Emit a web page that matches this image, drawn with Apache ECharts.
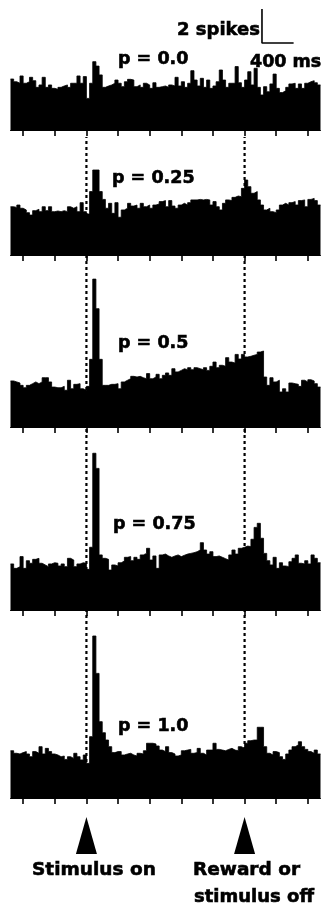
<!DOCTYPE html>
<html>
<head>
<meta charset="utf-8">
<script src="https://cdn.jsdelivr.net/npm/echarts@6/dist/echarts.min.js"></script>
<style>
  html, body { margin: 0; padding: 0; background: #fff; }
  #chart { width: 327px; height: 911px; }
</style>
</head>
<body>
<div id="chart"></div>
<script>
// PSTH, 40 ms bins, time 0 = stimulus on, 2000 ms = reward / stimulus off
const BIN_START = -960;
const BIN_MS = 40;
const TICKS = [-800, -400, 0, 400, 800, 1200, 1600, 2000, 2400, 2800];
const EVENTS = [0, 2000];
const EVENT_LABELS = ['Stimulus on', 'Reward or\nstimulus off'];
const P_LABELS = ['p = 0.0', 'p = 0.25', 'p = 0.5', 'p = 0.75', 'p = 1.0'];
const SCALE_SPIKES = 2, SCALE_MS = 400, SCALE_T0 = 2220;

// spikes per bin
const P00 = [3.00,2.84,2.75,3.18,2.75,2.84,3.10,2.90,2.51,2.65,3.10,2.51,2.65,2.45,2.39,2.51,2.59,2.65,2.51,2.75,
  2.75,3.18,2.75,3.14,1.86,2.75,4.02,3.76,3.24,2.51,2.59,2.65,2.75,2.94,2.75,2.55,2.84,2.98,2.94,2.55,
  2.65,2.51,2.75,2.65,2.45,2.78,2.51,2.55,2.59,2.51,2.65,2.59,3.10,2.59,2.84,2.51,2.75,3.49,2.94,2.59,
  3.04,2.51,2.94,2.45,2.59,2.84,3.53,2.94,2.51,2.75,2.75,3.73,2.78,2.51,2.94,3.43,2.65,3.63,2.51,2.06,
  2.55,2.25,2.71,3.29,2.45,2.20,2.31,2.51,2.71,2.75,2.45,2.71,2.45,2.75,2.84,2.90,2.78,2.65];
const P025 = [2.84,2.80,2.94,2.75,2.65,2.49,2.35,2.61,2.69,2.55,2.84,2.61,2.84,2.55,2.59,2.55,2.61,2.55,2.84,2.75,
  2.84,2.55,3.08,2.55,2.41,3.73,5.00,5.00,3.73,3.27,2.75,3.04,2.45,3.08,2.22,2.65,2.75,3.04,2.88,2.94,
  2.75,3.04,2.84,2.94,2.75,2.94,3.00,3.14,3.20,2.84,3.20,2.88,2.75,2.94,3.04,2.94,3.08,3.24,3.24,3.27,
  3.24,3.27,3.24,2.94,3.14,2.84,2.65,3.04,3.24,3.20,3.39,3.47,3.43,3.92,4.41,4.02,3.63,3.73,3.24,2.94,
  2.65,2.75,2.55,2.49,2.65,2.94,3.04,2.94,3.08,3.14,2.94,3.20,3.24,2.84,3.27,3.33,3.20,2.94];
const P05 = [2.71,2.65,2.59,2.45,2.31,2.45,2.55,2.65,2.55,2.65,2.90,2.90,2.65,2.35,2.31,2.31,2.39,2.16,2.75,2.25,
  2.51,2.55,2.25,2.16,2.39,3.98,8.70,6.96,3.98,2.45,2.45,2.51,2.51,2.55,2.25,2.65,2.75,2.84,2.98,2.94,
  2.98,2.90,2.84,3.14,2.84,2.94,3.10,2.84,3.04,3.18,3.04,3.43,3.24,3.33,3.43,3.37,3.49,3.37,3.49,3.43,
  3.37,3.49,3.33,3.57,3.82,3.49,3.63,3.57,4.08,3.82,3.76,4.27,4.00,4.27,4.12,4.16,4.22,4.27,4.41,4.47,
  2.94,2.45,2.90,2.65,2.75,2.06,2.25,2.06,2.59,2.55,2.51,2.39,2.75,2.65,2.78,2.71,2.55,2.35];
const P075 = [2.71,2.45,2.55,3.14,2.45,2.90,2.75,2.98,3.04,2.75,2.65,2.55,2.71,2.78,2.75,2.59,2.71,2.55,3.04,2.94,
  2.55,2.71,2.78,2.75,2.39,3.69,9.22,8.33,3.24,3.04,2.98,2.35,2.65,2.59,2.78,2.88,3.10,3.14,2.90,3.10,
  2.98,3.24,3.33,3.63,2.94,3.18,2.45,3.24,3.29,3.18,3.10,3.18,3.24,3.14,3.22,3.29,3.33,3.37,3.43,3.53,
  3.96,3.53,3.29,3.43,3.14,3.18,3.10,3.02,2.94,3.24,3.53,3.29,3.63,3.69,3.76,3.73,4.16,4.86,5.10,4.22,
  3.33,2.90,2.65,3.10,2.45,2.78,2.59,2.55,2.84,3.04,3.24,2.75,2.71,2.90,2.71,3.24,3.04,2.78];
const P10 = [2.78,2.63,2.59,2.67,2.73,2.59,2.43,2.73,2.63,3.02,2.59,2.92,2.73,2.59,2.53,2.43,2.47,2.27,2.43,2.33,
  2.63,2.43,2.24,2.53,2.04,3.61,9.53,7.33,4.49,3.84,3.41,3.02,2.67,2.73,2.73,2.53,2.59,2.63,2.53,2.47,
  2.63,2.59,2.78,3.22,3.22,3.18,3.06,2.82,2.73,3.02,2.67,2.59,2.47,2.53,2.78,2.82,2.86,2.63,2.67,2.92,
  2.63,2.53,2.82,2.82,3.22,2.86,2.82,2.78,2.86,2.92,2.82,2.78,3.02,2.92,3.22,3.37,3.41,3.41,4.16,4.16,
  3.02,2.63,2.53,2.73,2.67,2.43,2.27,2.59,2.82,3.02,3.12,3.31,3.02,2.86,2.73,2.63,2.82,2.59];
const PANELS = [P00, P025, P05, P075, P10];

// layout
const GRID_LEFT = 10.5, GRID_W = 310;
const PX_PER_SPIKE = 17;
const BASE_Y = [130, 255, 427, 610, 798];
const YMAX = [5, 6, 10, 10, 10];
const LABEL_POS = [[118, 59], [112, 178], [118, 343], [113, 524], [118, 726]];
const FONT = 'bold 17.5px "DejaVu Sans"';
const X_MAX = BIN_START + BIN_MS * P00.length;

const chart = echarts.init(document.getElementById('chart'), null, { renderer: 'canvas' });

const grid = [], xAxis = [], yAxis = [], series = [];

function hiddenX(gi) {
  return { gridIndex: gi, type: 'value', min: BIN_START, max: X_MAX, show: false };
}
function hiddenY(gi, max) {
  return { gridIndex: gi, type: 'value', min: 0, max, show: false };
}

PANELS.forEach((vals, i) => {
  const h = YMAX[i] * PX_PER_SPIKE;
  grid.push({ left: GRID_LEFT, width: GRID_W, top: BASE_Y[i] - h, height: h });
  xAxis.push({
    gridIndex: i, type: 'value', min: BIN_START, max: X_MAX,
    axisLine: { show: true, lineStyle: { color: '#000', width: 1 } },
    axisTick: { show: true, customValues: TICKS, length: 6, lineStyle: { color: '#000', width: 1.6 } },
    axisLabel: { show: false },
    splitLine: { show: false },
  });
  yAxis.push(hiddenY(i, YMAX[i]));
  const data = vals.map((v, k) => [BIN_START + k * BIN_MS, v]);
  data.push([X_MAX, vals[vals.length - 1]]);
  series.push({
    type: 'line', xAxisIndex: i, yAxisIndex: i, data,
    step: 'end', symbol: 'none', silent: true,
    lineStyle: { color: '#000', width: 0.8 },
    areaStyle: { color: '#000', opacity: 1 },
    z: 3,
  });
});

// dotted event lines, across all panels
let gi = PANELS.length;
grid.push({ left: GRID_LEFT, width: GRID_W, top: 137, height: BASE_Y[4] - 137 });
xAxis.push(hiddenX(gi));
yAxis.push(hiddenY(gi, 1));
EVENTS.forEach(t => {
  series.push({
    type: 'line', xAxisIndex: gi, yAxisIndex: gi, data: [[t, 0], [t, 1]],
    symbol: 'none', silent: true, clip: false,
    lineStyle: { color: '#000', width: 2.2, type: [3, 3] },
    z: 2,
  });
});

// scale bar
gi++;
grid.push({ left: GRID_LEFT, width: GRID_W, top: 9, height: 34 });
xAxis.push(hiddenX(gi));
yAxis.push(hiddenY(gi, SCALE_SPIKES));
series.push({
  type: 'line', xAxisIndex: gi, yAxisIndex: gi,
  data: [[SCALE_T0, SCALE_SPIKES], [SCALE_T0, 0], [SCALE_T0 + SCALE_MS, 0]],
  symbol: 'none', silent: true, clip: false,
  lineStyle: { color: '#000', width: 1.6 },
});

// event arrows
gi++;
grid.push({ left: GRID_LEFT, width: GRID_W, top: 817, height: 37 });
xAxis.push(hiddenX(gi));
yAxis.push(hiddenY(gi, 1));
series.push({
  type: 'scatter', xAxisIndex: gi, yAxisIndex: gi,
  data: EVENTS.map(t => [t, 0.5]),
  symbol: 'triangle', symbolSize: [21, 37], silent: true,
  itemStyle: { color: '#000', opacity: 1 },
});

const heavy = { fill: '#000', stroke: '#000', lineWidth: 0.6, textVerticalAlign: 'middle' };
const graphic = [];
P_LABELS.forEach((txt, i) => {
  graphic.push({ type: 'text', x: LABEL_POS[i][0], y: LABEL_POS[i][1],
    style: Object.assign({ text: txt, font: FONT, textAlign: 'left' }, heavy) });
});
graphic.push({ type: 'text', x: 260, y: 30,
  style: Object.assign({ text: SCALE_SPIKES + ' spikes', font: 'bold 18px "DejaVu Sans"', textAlign: 'right' }, heavy) });
graphic.push({ type: 'text', x: 250, y: 62,
  style: Object.assign({ text: SCALE_MS + ' ms', font: FONT, textAlign: 'left' }, heavy) });
graphic.push({ type: 'text', x: 32, y: 870,
  style: Object.assign({ text: EVENT_LABELS[0], font: 'bold 18.5px "DejaVu Sans"', textAlign: 'left' }, heavy) });
graphic.push({ type: 'text', x: 193, y: 870,
  style: Object.assign({ text: EVENT_LABELS[1].split('\n')[0], font: 'bold 18.5px "DejaVu Sans"', textAlign: 'left' }, heavy) });
graphic.push({ type: 'text', x: 194, y: 897,
  style: Object.assign({ text: EVENT_LABELS[1].split('\n')[1], font: 'bold 18px "DejaVu Sans"', textAlign: 'left' }, heavy) });

chart.setOption({
  backgroundColor: '#fff',
  animation: false,
  grid, xAxis, yAxis, series, graphic,
});
</script>
</body>
</html>
